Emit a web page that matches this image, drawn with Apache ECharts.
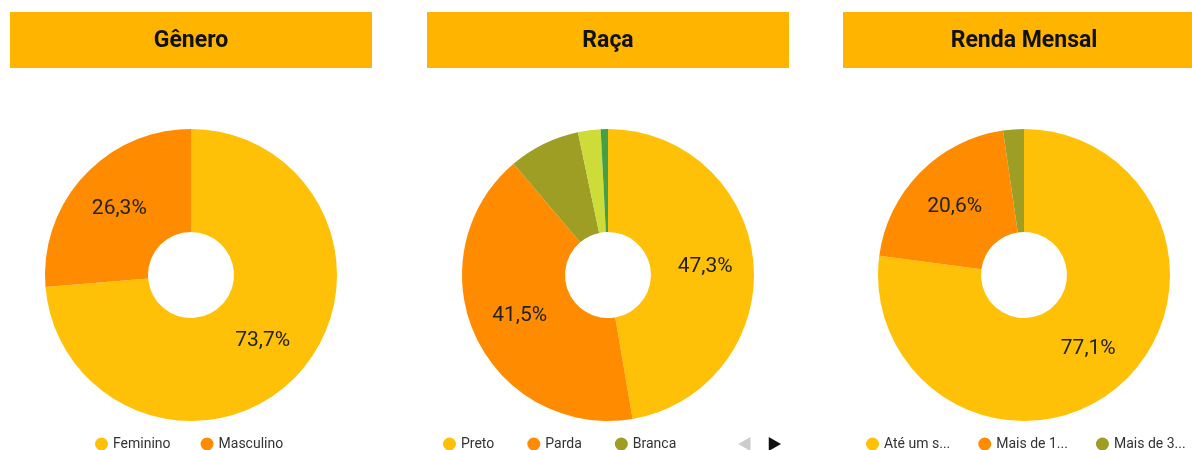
<!DOCTYPE html>
<html>
<head>
<meta charset="utf-8">
<script src="https://cdn.jsdelivr.net/npm/echarts@6/dist/echarts.min.js"></script>
<style>
html,body{margin:0;padding:0;background:#fff;}
#chart{width:1192px;height:450px;}
</style>
</head>
<body>
<div id="chart"></div>
<script>
// Data
const panelTitles = ['Gênero', 'Raça', 'Renda Mensal'];

const generoNames = ['Feminino', 'Masculino'];
const generoValues = [73.7, 26.3];

const racaNames = ['Preto', 'Parda', 'Branca', 'Amarela', 'Indígena'];
const racaValues = [47.3, 41.5, 7.9, 2.5, 0.8];

const rendaNames = ['Até um salário mínimo', 'Mais de 1 até 3 salários mínimos', 'Mais de 3 salários mínimos'];
const rendaLegendLabels = ['Até um s...', 'Mais de 1...', 'Mais de 3...'];
const rendaValues = [77.1, 20.6, 2.3];

const palette = ['#FFC107', '#FF8C00', '#9E9D24', '#CDDC39', '#43A047'];

const chart = echarts.init(document.getElementById('chart'), null, {renderer: 'canvas'});

const centersX = [191, 608, 1024];
const barLeft = [10, 427, 843];
const barWidth = 362;

function toData(names, values) {
  return names.map((n, i) => ({name: n, value: values[i], itemStyle: {color: palette[i]}}));
}

const labelCfg = {
  show: true,
  position: 'inside',
  color: '#222',
  fontSize: 21,
  fontFamily: 'Roboto',
  formatter: p => p.percent >= 10 ? p.value.toFixed(1).replace('.', ',') + '%' : ''
};

function pie(idx, names, values) {
  return {
    type: 'pie',
    radius: [43, 146],
    center: [centersX[idx], 275],
    startAngle: 90,
    clockwise: true,
    avoidLabelOverlap: false,
    legendHoverLink: false,
    label: labelCfg,
    labelLine: {show: false},
    itemStyle: {borderWidth: 0},
    emphasis: {disabled: true},
    data: toData(names, values)
  };
}

const legendText = {color: '#333', fontSize: 14, fontFamily: 'Roboto'};

const graphics = [];
panelTitles.forEach((t, i) => {
  graphics.push({
    type: 'rect',
    shape: {x: barLeft[i], y: 12, width: barWidth, height: 56},
    style: {fill: '#FFB400'},
    silent: true
  });
  graphics.push({
    type: 'text',
    x: barLeft[i] + barWidth / 2,
    y: 41,
    style: {
      text: t,
      fill: '#111',
      font: 'bold 23px Roboto',
      textAlign: 'center',
      textVerticalAlign: 'middle'
    },
    silent: true
  });
});

chart.setOption({
  animation: false,
  graphic: graphics,
  legend: [
    {
      data: generoNames,
      left: 90,
      top: 432,
      icon: 'circle',
      itemWidth: 13,
      itemHeight: 13,
      itemGap: 30,
      textStyle: legendText
    },
    {
      type: 'scroll',
      data: racaNames,
      left: 438,
      top: 432,
      width: 338,
      icon: 'circle',
      itemWidth: 13,
      itemHeight: 13,
      itemGap: 33,
      textStyle: legendText,
      pageIcons: {horizontal: ['M0,0L14,-8L14,8z', 'M0,0L-14,-8L-14,8z']},
      pageIconColor: '#111',
      pageIconInactiveColor: '#ccc',
      pageIconSize: 14,
      pageButtonItemGap: 8,
      pageButtonGap: 60,
      pageFormatter: ' ',
      pageTextStyle: {color: 'rgba(0,0,0,0)', fontSize: 1}
    },
    {
      data: rendaNames,
      left: 861,
      top: 432,
      width: 331,
      icon: 'circle',
      itemWidth: 13,
      itemHeight: 13,
      itemGap: 28,
      textStyle: legendText,
      formatter: name => rendaLegendLabels[rendaNames.indexOf(name)]
    }
  ],
  series: [
    pie(0, generoNames, generoValues),
    pie(1, racaNames, racaValues),
    pie(2, rendaNames, rendaValues)
  ]
});
</script>
</body>
</html>
